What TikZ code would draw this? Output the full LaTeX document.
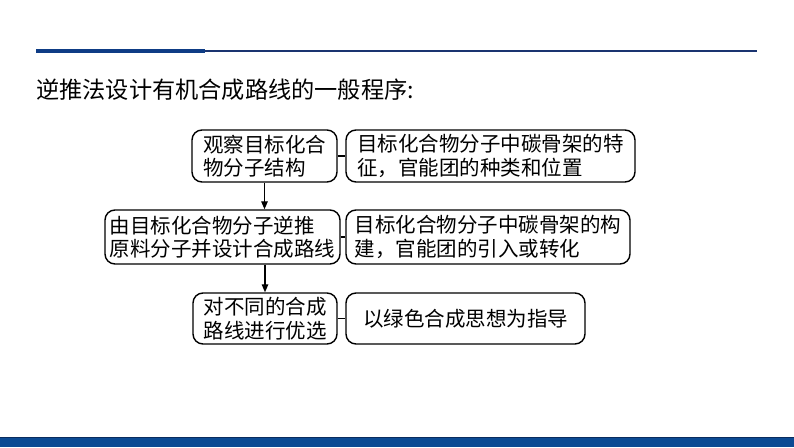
\documentclass[tikz,border=0pt]{standalone}
\usepackage{fontspec}
\setmainfont{Noto Sans CJK SC}
\usetikzlibrary{arrows.meta}
\definecolor{topblue}{HTML}{0E3C85}
\definecolor{thinblue}{HTML}{1A3470}
\definecolor{bandblue}{HTML}{0B4A93}
\definecolor{banddark}{HTML}{0A2C5E}
\tikzset{
  stepbox/.style={draw=black, line width=1.4pt, rounded corners=10pt, align=left,
    inner sep=0pt, font=\fontsize{20.5}{23.5}\selectfont},
  link/.style={draw=black, line width=1.4pt},
  flow/.style={draw=black, line width=1.3pt, -{Triangle[length=8pt,width=6.5pt]}}
}
\begin{document}
\begin{tikzpicture}[x=1pt,y=-1pt]
\useasboundingbox (0,0) rectangle (794,447);
% decorations
\coordinate (t1) at (36,51);
\coordinate (t2) at (205,51);
\coordinate (t3) at (757,51);
\draw[topblue, line width=3.2pt] (t1) -- (t2);
\draw[thinblue, line width=1.5pt] (t2) -- (t3);
\fill[bandblue] (0,437) rectangle (794,447);
\draw[banddark, line width=1pt] (0,437.5) -- (794,437.5);
% title
\node[anchor=west, inner sep=0pt, font=\fontsize{23.2}{25}\selectfont] (title) at (36,90) {逆推法设计有机合成路线的一般程序:};
% boxes
\node[stepbox, minimum width=145pt, minimum height=52pt] (b1) at (264.5,156) {观察目标化合\\物分子结构};
\node[stepbox, minimum width=289pt, minimum height=52pt] (r1) at (490.5,156) {目标化合物分子中碳骨架的特\\征，官能团的种类和位置};
\node[stepbox, minimum width=235pt, minimum height=54pt] (b2) at (222.5,237) {由目标化合物分子逆推\\原料分子并设计合成路线};
\node[stepbox, minimum width=284pt, minimum height=54pt] (r2) at (488,237) {目标化合物分子中碳骨架的构\\建，官能团的引入或转化};
\node[stepbox, minimum width=144pt, minimum height=51pt] (b3) at (265,318.5) {对不同的合成\\路线进行优选};
\node[stepbox, minimum width=239pt, minimum height=51pt] (r3) at (465.5,318.5) {以绿色合成思想为指导};
% connectors
\draw[link] (b1.east) -- (r1.west);
\draw[link] (b2.east) -- (r2.west);
\draw[link] (b3.east) -- (r3.west);
\draw[flow] (b1.south) -- (b1.south |- b2.north);
\draw[flow] (b2.south -| b3.north) -- (b3.north);
\end{tikzpicture}
\end{document}
